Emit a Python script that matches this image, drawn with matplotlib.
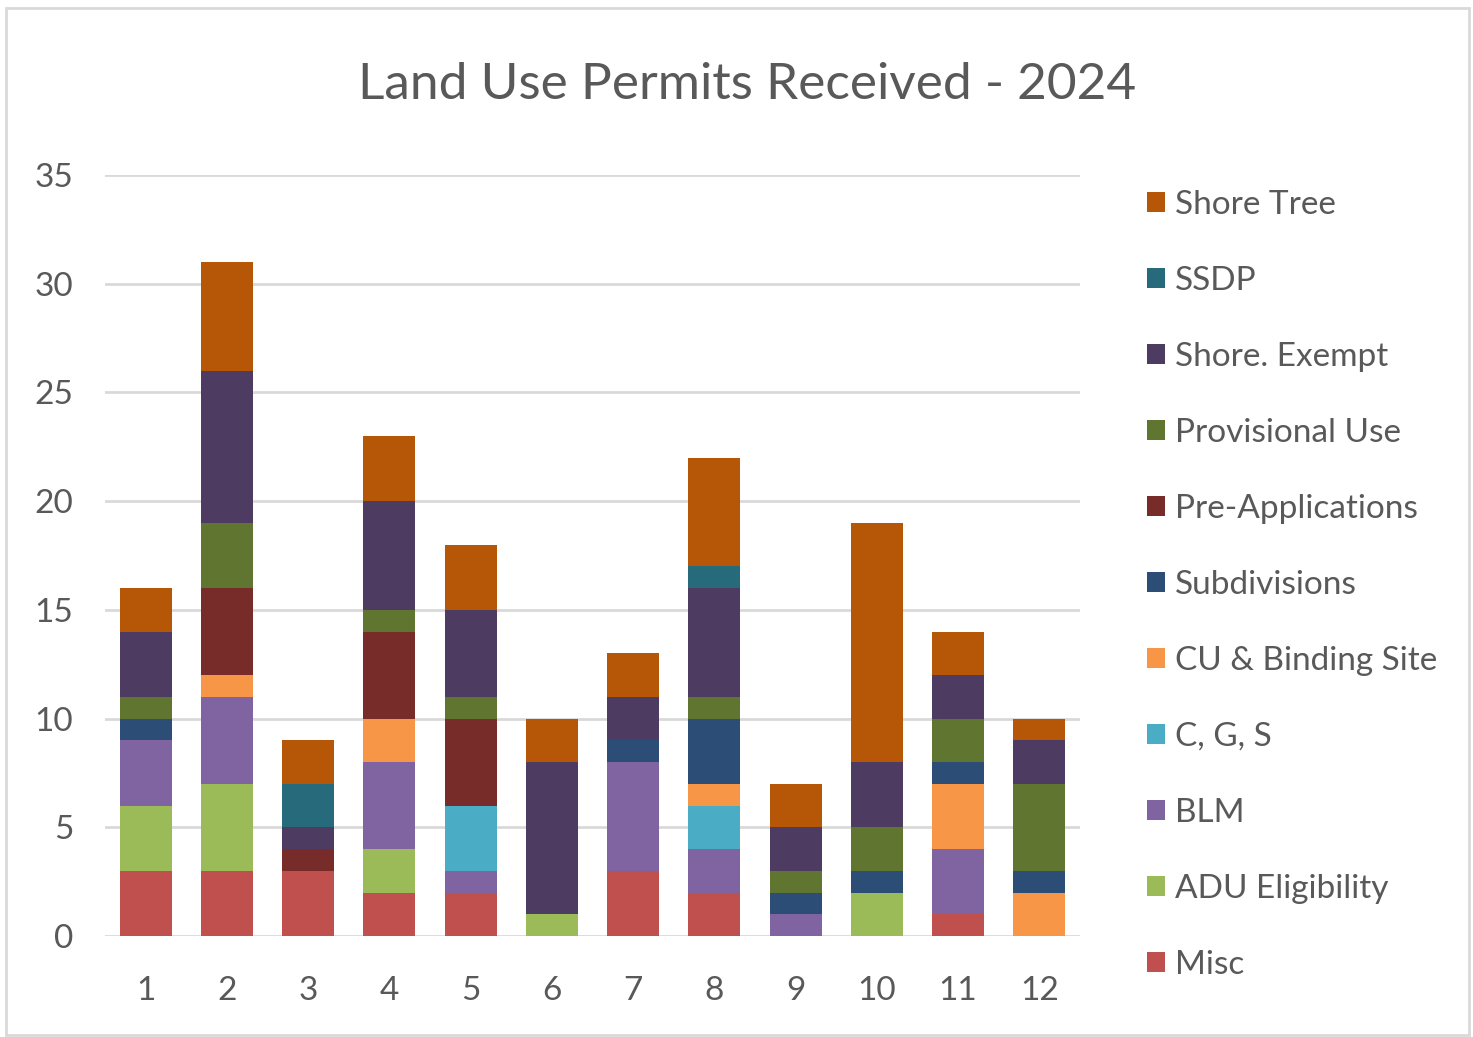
import matplotlib
matplotlib.use("Agg")
import matplotlib.pyplot as plt
from matplotlib.patches import Rectangle, Patch
import numpy as np

months = ["1", "2", "3", "4", "5", "6", "7", "8", "9", "10", "11", "12"]
series_names = ["Misc", "ADU Eligibility", "BLM", "C, G, S", "CU & Binding Site",
                "Subdivisions", "Pre-Applications", "Provisional Use",
                "Shore. Exempt", "SSDP", "Shore Tree"]
misc          = [3, 3, 3, 2, 2, 0, 3, 2, 0, 0, 1, 0]
adu           = [3, 4, 0, 2, 0, 1, 0, 0, 0, 2, 0, 0]
blm           = [3, 4, 0, 4, 1, 0, 5, 2, 1, 0, 3, 0]
cgs           = [0, 0, 0, 0, 3, 0, 0, 2, 0, 0, 0, 0]
cu_binding    = [0, 1, 0, 2, 0, 0, 0, 1, 0, 0, 3, 2]
subdivisions  = [1, 0, 0, 0, 0, 0, 1, 3, 1, 1, 1, 1]
pre_apps      = [0, 4, 1, 4, 4, 0, 0, 0, 0, 0, 0, 0]
provisional   = [1, 3, 0, 1, 1, 0, 0, 1, 1, 2, 2, 4]
shore_exempt  = [3, 7, 1, 5, 4, 7, 2, 5, 2, 3, 2, 2]
ssdp          = [0, 0, 2, 0, 0, 0, 0, 1, 0, 0, 0, 0]
shore_tree    = [2, 5, 2, 3, 3, 2, 2, 5, 2, 11, 2, 1]
series = [misc, adu, blm, cgs, cu_binding, subdivisions, pre_apps,
          provisional, shore_exempt, ssdp, shore_tree]
colors = ["#C0504D", "#9BBB59", "#8064A2", "#4BACC6", "#F79646", "#2C4D75",
          "#772C2A", "#5F7530", "#4D3B62", "#276A7C", "#B65708"]

font = ["Lato", "DejaVu Sans"]
plt.rcParams['font.family'] = font
text_color = "#595959"

fig = plt.figure(figsize=(14.73, 10.37), dpi=100)
fig.patches.append(Rectangle((0.004, 0.002), 0.993, 0.99, transform=fig.transFigure,
                             fill=False, edgecolor="#D9D9D9", linewidth=2))

ax = fig.add_axes([0.0713, 0.0974, 0.6619, 0.7338])
x = np.arange(1, 13)
bottom = np.zeros(12)
for vals, name, c in zip(series, series_names, colors):
    v = np.array(vals, dtype=float)
    ax.bar(x, v, bottom=bottom, width=0.64, color=c, label=name, zorder=3)
    bottom += v

ax.set_xlim(0.5, 12.5)
ax.set_ylim(0, 35)
ax.set_yticks(range(0, 36, 5))
ax.set_xticks(x)
ax.set_xticklabels(months)
ax.yaxis.grid(True, color="#D9D9D9", linewidth=2, zorder=0)
ax.set_axisbelow(True)
for s in ax.spines.values():
    s.set_visible(False)
ax.tick_params(axis='both', length=0, labelsize=24, colors=text_color)
ax.tick_params(axis='y', pad=23)
ax.tick_params(axis='x', pad=29)

fig.text(0.507, 0.918, "Land Use Permits Received - 2024", ha="center", va="center",
         fontsize=37, color=text_color)

handles = [Patch(facecolor=c, edgecolor='none') for c in colors][::-1]
labels = series_names[::-1]
leg = fig.legend(handles, labels, loc="upper left", bbox_to_anchor=(0.7695, 0.83),
                 frameon=False, fontsize=24, labelspacing=1.38, handlelength=0.55,
                 handleheight=0.55, handletextpad=0.3, borderaxespad=0)
for t in leg.get_texts():
    t.set_color(text_color)

fig.savefig("out.png", dpi=100)
